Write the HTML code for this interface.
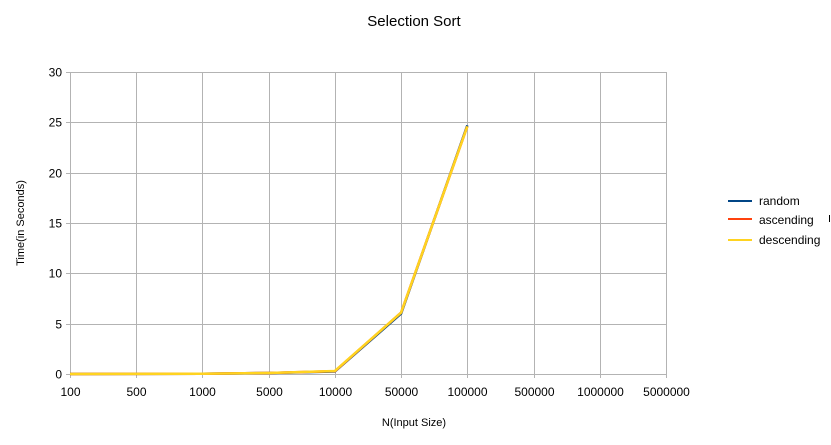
<!DOCTYPE html>
<html><head><meta charset="utf-8"><style>
body{margin:0;background:#fff;font-family:"Liberation Sans",sans-serif;}
svg text{font-family:"Liberation Sans",sans-serif;}
</style></head><body>
<svg id="c" width="831" height="440">
<text x="414" y="26" font-size="15" text-anchor="middle">Selection Sort</text>
<text x="414" y="426" font-size="11" text-anchor="middle">N(Input Size)</text>
<text transform="translate(24,223) rotate(-90)" font-size="11" text-anchor="middle">Time(in Seconds)</text>
<g id="grid"></g><g id="lines"></g>
<g>
<line x1="728" y1="201" x2="752" y2="201" stroke="#004586" stroke-width="2"/>
<text x="759" y="205" font-size="12">random</text>
<line x1="728" y1="219" x2="752" y2="219" stroke="#ff420e" stroke-width="2"/>
<text x="759" y="224" font-size="12">ascending</text>
<line x1="728" y1="240" x2="752" y2="240" stroke="#ffd320" stroke-width="2"/>
<text x="759" y="244" font-size="12">descending</text>
<line x1="829.5" y1="215" x2="829.5" y2="222" stroke="#000" stroke-width="1"/>
</g>
</svg>
<script>
const categories=["100","500","1000","5000","10000","50000","100000","500000","1000000","5000000"];
const yTicks=[0,5,10,15,20,25,30];
const randomVals=[0,0.01,0.02,0.1,0.25,6.0,24.7];
const ascendingVals=[0,0.01,0.02,0.1,0.28,6.1,24.6];
const descendingVals=[0,0.01,0.02,0.1,0.3,6.1,24.6];
const X0=70,X1=666,Y0=374,Y1=72,YMAX=30;
const xs=i=>X0+i*(X1-X0)/(categories.length-1);
const ys=v=>Y0-v*(Y0-Y1)/YMAX;
const NS="http://www.w3.org/2000/svg";
const g=document.getElementById('grid'),L=document.getElementById('lines');
function mk(tag,a,p){const e=document.createElementNS(NS,tag);for(const k in a)e.setAttribute(k,a[k]);p.appendChild(e);return e;}
yTicks.forEach(t=>{const y=Math.round(ys(t))+0.5;
const l=mk('line',{x1:X0-4,x2:X1,y1:y,y2:y,stroke:'#b3b3b3'},g);


const tx=mk('text',{x:X0-8,y:y+4,'font-size':12,'text-anchor':'end'},g);tx.textContent=t;

});
categories.forEach((c,i)=>{const x=Math.round(xs(i))+0.5;
const l=mk('line',{x1:x,x2:x,y1:Y1,y2:Y0+4,stroke:'#b3b3b3'},g);


const tx=mk('text',{x:x,y:Y0+22,'font-size':12,'text-anchor':'middle'},g);tx.textContent=c;

});
[[randomVals,'#004586','series-random'],[ascendingVals,'#ff420e','series-ascending'],[descendingVals,'#ffd320','series-descending']].forEach(([d,col,n])=>{
const p=mk('polyline',{points:d.map((v,i)=>xs(i)+','+ys(v)).join(' '),fill:'none',stroke:col,'stroke-width':2.5,'stroke-linejoin':'round'},L);

});
</script>
</body></html>
